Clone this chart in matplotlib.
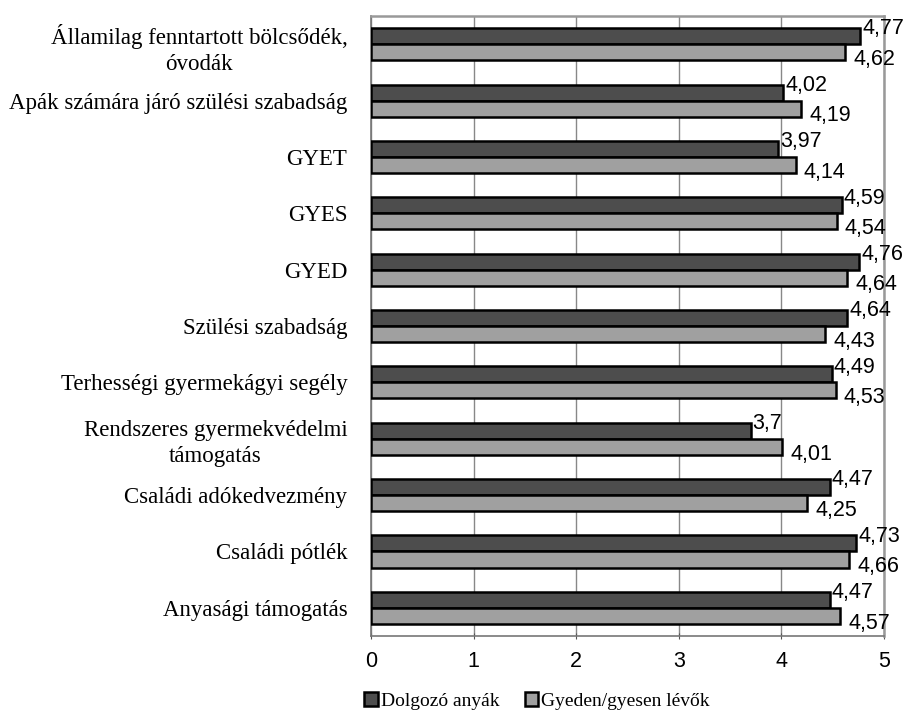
import matplotlib
matplotlib.use("Agg")
import matplotlib.pyplot as plt
import numpy as np

categories = [
    "Államilag fenntartott bölcsődék,\nóvodák",
    "Apák számára járó szülési szabadság",
    "GYET",
    "GYES",
    "GYED",
    "Szülési szabadság",
    "Terhességi gyermekágyi segély",
    "Rendszeres gyermekvédelmi\ntámogatás",
    "Családi adókedvezmény",
    "Családi pótlék",
    "Anyasági támogatás",
]
dolgozo = [4.77, 4.02, 3.97, 4.59, 4.76, 4.64, 4.49, 3.70, 4.47, 4.73, 4.47]
gyeden = [4.62, 4.19, 4.14, 4.54, 4.64, 4.43, 4.53, 4.01, 4.25, 4.66, 4.57]
series_names = ["Dolgozó anyák", "Gyeden/gyesen lévők"]
xticks = [0, 1, 2, 3, 4, 5]

def fmt(v):
    s = ("%.2f" % v).rstrip("0").rstrip(".")
    return s.replace(".", ",")

fig = plt.figure(figsize=(9.1, 7.14), dpi=100)
ax = fig.add_axes([0.4077, 0.1092, 0.5637, 0.8683])

n = len(categories)
y = np.arange(n)[::-1].astype(float)
h = 0.285
dark = "#4d4d4d"
light = "#a0a0a0"

ax.barh(y + h / 2, dolgozo, height=h, color=dark, edgecolor="black", linewidth=1.8,
        label=series_names[0], zorder=3)
ax.barh(y - h / 2, gyeden, height=h, color=light, edgecolor="black", linewidth=1.8,
        label=series_names[1], zorder=3)

numfont = dict(family="Liberation Sans", fontsize=15.5)
for yi, a, b in zip(y, dolgozo, gyeden):
    ax.text(a + 0.02, yi + h * 0.95, fmt(a), ha="left", va="center", clip_on=False, **numfont)
    ax.text(b + 0.08, yi - h * 0.95, fmt(b), ha="left", va="center", clip_on=False, **numfont)

ax.set_xlim(0, 5)
ax.set_ylim(-0.5, n - 0.5)
ax.set_xticks(xticks)
ax.set_xticklabels([str(t) for t in xticks], family="Liberation Sans", fontsize=15.5)
ax.set_yticks(y)
ax.set_yticklabels(categories, family="Liberation Serif", fontsize=16.5,
                   multialignment="center", linespacing=1.3)
ax.tick_params(axis="y", length=0, pad=17)
ax.tick_params(axis="x", length=5, direction="inout", color="#555555", pad=8)
ax.grid(axis="x", color="#888888", linewidth=1.0, zorder=0)

for side in ["top", "right"]:
    ax.spines[side].set_color("#999999")
    ax.spines[side].set_linewidth(1.8)
ax.spines["left"].set_color("#777777")
ax.spines["left"].set_linewidth(1.2)
ax.spines["bottom"].set_color("#777777")
ax.spines["bottom"].set_linewidth(1.2)

leg = fig.legend(loc="center", bbox_to_anchor=(0.59, 0.018), ncol=2, frameon=False,
                 prop=dict(family="Liberation Serif", size=14),
                 handlelength=0.7, handleheight=0.7, handletextpad=0.15,
                 columnspacing=1.3)

fig.savefig("out.png", dpi=100)
